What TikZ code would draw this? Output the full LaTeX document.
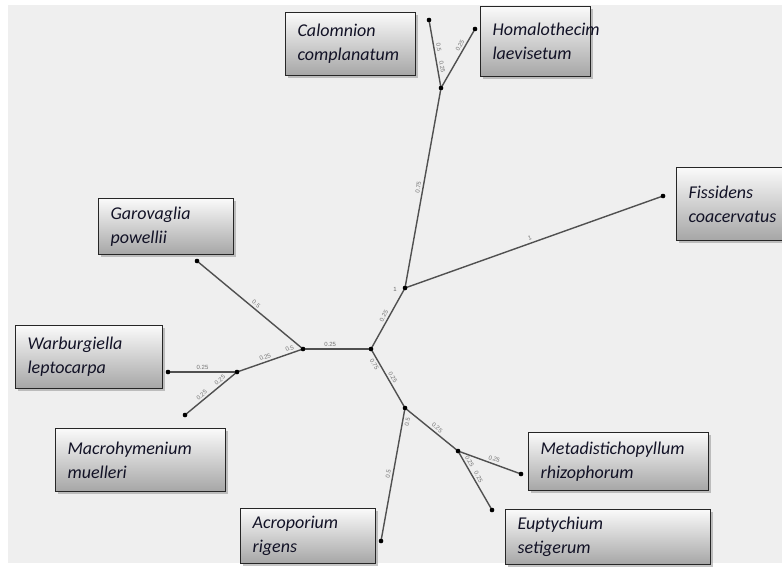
\documentclass[tikz,border=0pt]{standalone}
\usepackage{fontspec}
\setmainfont{Carlito}
\newfontfamily\labfont{Liberation Sans}
\usetikzlibrary{shadows}
\definecolor{bg}{HTML}{EFEFEF}
\definecolor{edgec}{HTML}{505050}
\definecolor{txt}{HTML}{121226}
\tikzset{
 taxbox/.style={draw=black!85, line width=1.2pt, top color=black!2, bottom color=black!35,
   anchor=north west, align=left, inner xsep=12pt, inner ysep=0pt,
   font=\fontsize{18}{24}\selectfont\itshape, text=txt,
   drop shadow={shadow xshift=2pt, shadow yshift=-2pt, opacity=0.45}},
 branch/.style={draw=edgec, line width=1.4pt},
 dotn/.style={circle, fill=black, inner sep=0pt, minimum size=4.5pt},
 elab/.style={font=\labfont\fontsize{6}{6}\selectfont, text=black!55, inner sep=2pt, sloped},
}
\begin{document}
\begin{tikzpicture}[x=1pt,y=-1pt]
\useasboundingbox (0,0) rectangle (782,567);
\clip (0,0) rectangle (782,567);
\fill[white] (0,0) rectangle (782,567);
\fill[bg] (8,5) rectangle (782,563);

% boxes
\node[taxbox, text width=106pt, minimum height=63pt] (bCal) at (285,12) {Calomnion\\complanatum};
\node[taxbox, text width=86pt, minimum height=70pt] (bHom) at (480,6) {Homalothecim\\laevisetum};
\node[taxbox, text width=106pt, minimum height=73pt] (bFis) at (676,167) {Fissidens\\coacervatus};
\node[taxbox, text width=111pt, minimum height=56pt] (bGar) at (98,198) {Garovaglia\\powellii};
\node[taxbox, text width=123pt, minimum height=63pt] (bWar) at (15,325) {Warburgiella\\leptocarpa};
\node[taxbox, text width=146pt, minimum height=63pt] (bMac) at (55,428) {Macrohymenium\\muelleri};
\node[taxbox, text width=156pt, minimum height=58pt] (bMet) at (528,432) {Metadistichopyllum\\rhizophorum};
\node[taxbox, text width=111pt, minimum height=55pt] (bAcr) at (240,508) {Acroporium\\rigens};
\node[taxbox, text width=181pt, minimum height=55pt] (bEup) at (505,509) {Euptychium\\setigerum};

% points
\node[dotn] (R) at (371,349) {};
\node[dotn] (A) at (405,288) {};
\node[dotn] (T) at (441,88) {};
\node[dotn] (C) at (429,20) {};
\node[dotn] (H) at (475,29) {};
\node[dotn] (F) at (663,196) {};
\node[dotn] (L) at (303,349) {};
\node[dotn] (G) at (197,261) {};
\node[dotn] (W) at (237,372) {};
\node[dotn] (Wb) at (168,372) {};
\node[dotn] (M) at (185,415) {};
\node[dotn] (B) at (405,408) {};
\node[dotn] (Ac) at (381,541) {};
\node[dotn] (J) at (458,451) {};
\node[dotn] (Me) at (521,474) {};
\node[dotn] (E) at (492,510) {};

% branches
\draw[branch] (R.center) -- (A.center) node[elab, pos=.5, above] {0.25};
\node[font=\labfont\fontsize{6}{6}\selectfont, text=black!60] (lA) at (395,289) {1};
\draw[branch] (A.center) -- (T.center) node[elab, pos=.5, above] {0.75};
\draw[branch] (A.center) -- (F.center) node[elab, pos=.49, above] {1};
\draw[branch] (T.center) -- (C.center) node[elab, pos=.3, above] {0.25} node[elab, pos=.58, above] {0.5};
\draw[branch] (T.center) -- (H.center) node[elab, pos=.68, above] {0.25};
\draw[branch] (R.center) -- (L.center) node[elab, pos=.6, above] {0.25};
\draw[branch] (L.center) -- (G.center) node[elab, pos=.47, above] {0.5};
\draw[branch] (L.center) -- (W.center) node[elab, pos=.18, above] {0.5} node[elab, pos=.55, above] {0.25};
\draw[branch] (W.center) -- (Wb.center) node[elab, pos=.5, above] {0.25};
\draw[branch] (W.center) -- (M.center) node[elab, pos=.27, above] {0.25} node[elab, pos=.62, above] {0.25};
\draw[branch] (R.center) -- (B.center) node[elab, pos=.22, below] {0.75} node[elab, pos=.52, above] {0.25};
\draw[branch] (B.center) -- (Ac.center) node[elab, pos=.1, below] {0.5} node[elab, pos=.5, above] {0.5};
\draw[branch] (B.center) -- (J.center) node[elab, pos=.55, above] {0.25};
\draw[branch] (J.center) -- (Me.center) node[elab, pos=.55, above] {0.25};
\draw[branch] (J.center) -- (E.center) node[elab, pos=.22, above] {0.25} node[elab, pos=.48, above] {0.25};

% redraw dots on top
\foreach \p in {R,A,T,C,H,F,L,G,W,Wb,M,B,Ac,J,Me,E}{\fill (\p) circle (2.2pt);}
\end{tikzpicture}
\end{document}
